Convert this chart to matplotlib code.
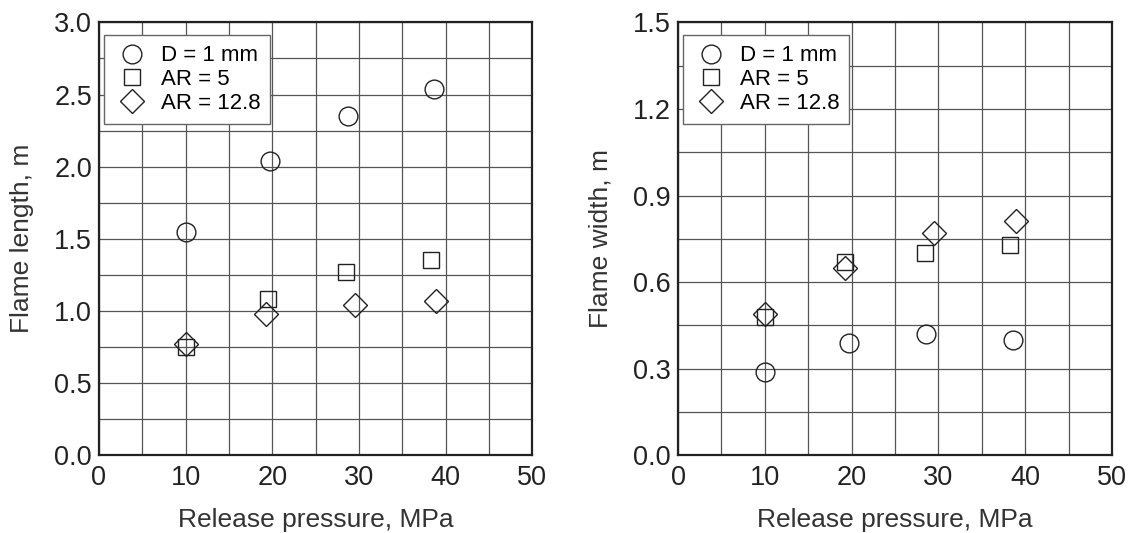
import matplotlib.pyplot as plt
import numpy as np

plt.rcParams['font.family'] = ['Liberation Sans', 'DejaVu Sans']

# left panel: flame length
len_d1_x = [10, 19.8, 28.7, 38.7]
len_d1_y = [1.55, 2.04, 2.35, 2.54]
len_ar5_x = [10, 19.5, 28.5, 38.3]
len_ar5_y = [0.75, 1.08, 1.27, 1.35]
len_ar128_x = [10, 19.3, 29.5, 38.9]
len_ar128_y = [0.77, 0.98, 1.04, 1.07]

# right panel: flame width
wid_d1_x = [10, 19.7, 28.6, 38.6]
wid_d1_y = [0.29, 0.39, 0.42, 0.40]
wid_ar5_x = [10, 19.2, 28.5, 38.3]
wid_ar5_y = [0.48, 0.67, 0.70, 0.73]
wid_ar128_x = [10, 19.2, 29.5, 38.9]
wid_ar128_y = [0.49, 0.65, 0.77, 0.81]

labels = ["D = 1 mm", "AR = 5", "AR = 12.8"]


def draw(ax, series, ymax, ystep, ylabel):
    styles = [("o", 13.5), ("s", 11.5), ("D", 12.5)]
    for (x, y), (m, ms), lab in zip(series, styles, labels):
        ax.plot(x, y, linestyle="none", marker=m, markersize=ms,
                markerfacecolor="none", markeredgecolor="#222222",
                markeredgewidth=1.0, label=lab)
    ax.set_xlim(0, 50)
    ax.set_ylim(0, ymax)
    ax.set_xticks(np.arange(0, 51, 10))
    ax.set_yticks(np.arange(0, ymax + 1e-9, ystep * 2))
    ax.set_xticks(np.arange(0, 51, 5), minor=True)
    ax.set_yticks(np.arange(0, ymax + 1e-9, ystep), minor=True)
    ax.yaxis.set_major_formatter(plt.FormatStrFormatter("%.1f"))
    ax.grid(True, which="both", color="#555555", linewidth=0.9)
    ax.tick_params(which="both", length=0, labelsize=19.5, colors="#222222")
    ax.tick_params(axis="x", pad=7)
    ax.tick_params(axis="y", pad=5)
    for s in ax.spines.values():
        s.set_linewidth(1.6)
        s.set_color("#222222")
    ax.set_xlabel("Release pressure, MPa", fontsize=19, color="#333333")
    ax.xaxis.set_label_coords(0.5, -0.122)
    ax.set_ylabel(ylabel, fontsize=19, color="#333333")
    ax.yaxis.set_label_coords(-0.15, 0.5)
    leg = ax.legend(loc="upper left", bbox_to_anchor=(0.0115, 0.97),
                    fontsize=16, frameon=True, fancybox=False,
                    borderaxespad=0, handletextpad=0.5, labelspacing=0.12,
                    borderpad=0.45, handlelength=1.6)
    leg.get_frame().set_edgecolor("#666666")
    leg.get_frame().set_linewidth(1.0)
    leg.get_frame().set_alpha(1.0)


fig = plt.figure(figsize=(11.31, 5.33), dpi=100)
ax1 = fig.add_axes([0.0875, 0.146, 0.383, 0.812])
ax2 = fig.add_axes([0.5995, 0.146, 0.3836, 0.812])

draw(ax1, [(len_d1_x, len_d1_y), (len_ar5_x, len_ar5_y), (len_ar128_x, len_ar128_y)],
     3.0, 0.25, "Flame length, m")
draw(ax2, [(wid_d1_x, wid_d1_y), (wid_ar5_x, wid_ar5_y), (wid_ar128_x, wid_ar128_y)],
     1.5, 0.15, "Flame width, m")

fig.savefig("out.png", dpi=100)
